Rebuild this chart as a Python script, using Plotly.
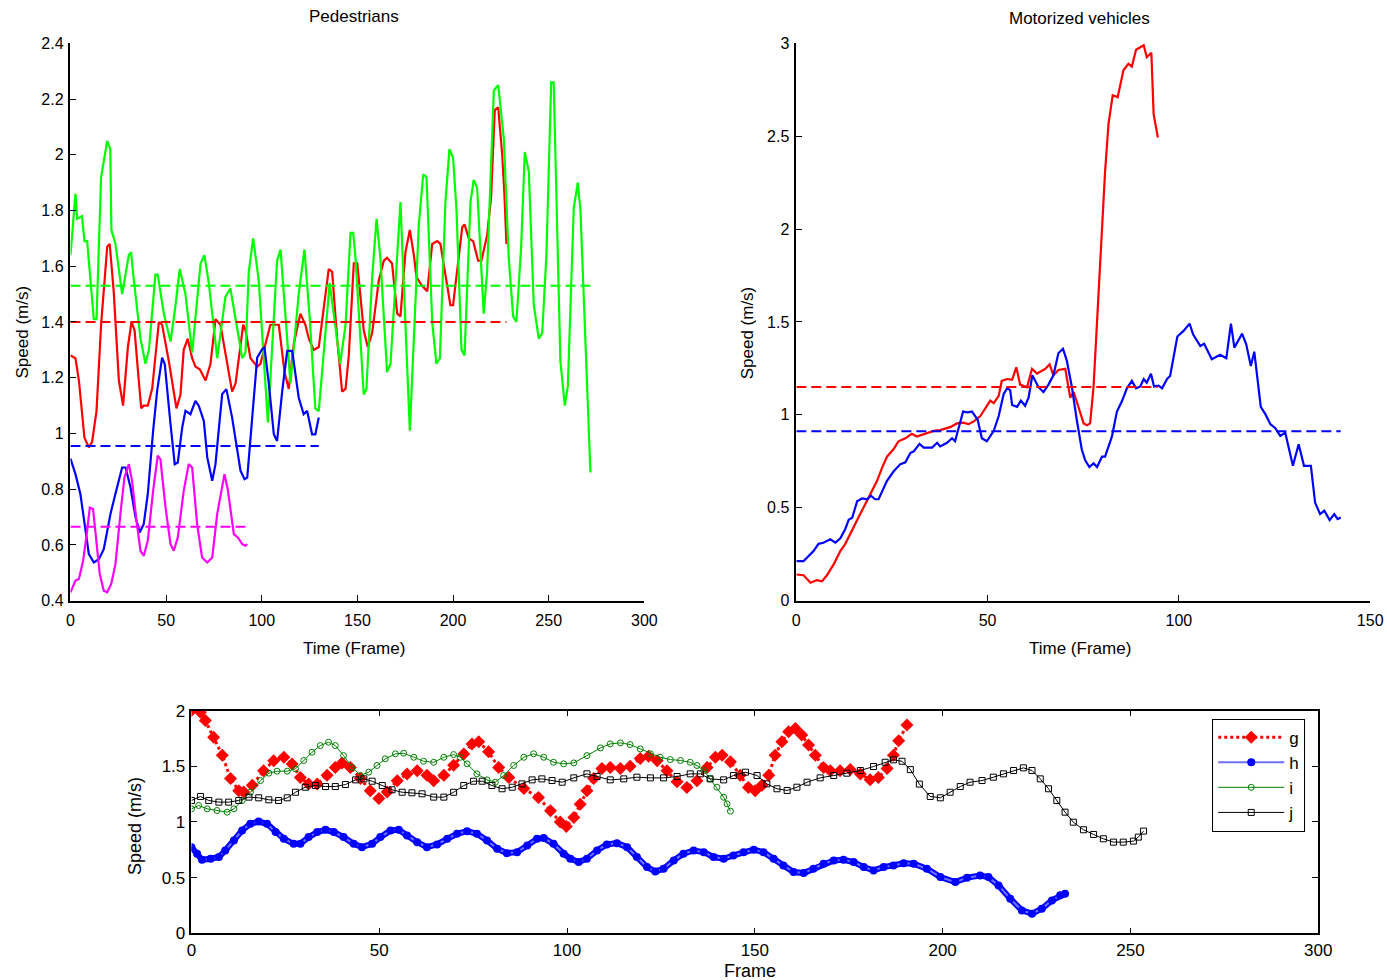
import plotly.graph_objects as go

# Figure size; the viewer shows it slightly scaled, so layout positions
# below are given in window pixels and converted by fx/fy.
W, H = 1405, 1000
AX, SX = 4.5, 0.9867
AY, SY = 7.7, 0.982

# ---------------- Pedestrians (speed in m/s vs frame) ----------------
ped_red_t = [0, 2.6, 4.4, 7.3, 9.6, 11.3, 13.6, 16, 19.2, 20.5, 22.6, 25.3, 27.5, 30, 31.9, 33.5, 35.7, 37, 38.3,
             40.4, 42.7, 46.2, 47.9, 51.4, 55.4, 57.5, 59.2, 61.3, 63.6, 65.3, 67.6, 70.6, 73.2, 75.8, 78.4, 81.9,
             84.5, 86.3, 90.3, 91.5, 94.1, 97.6, 99.3, 101.9, 104.5, 108.9, 111.9, 114.1, 116.7, 120.2, 122.8,
             124.6, 127.2, 129.8, 132.4, 135, 136.8, 139.4, 142, 143.8, 145.5, 148.1, 149.9, 153.3, 155.4, 157.7,
             161.2, 163.8, 165.5, 168.1, 170.8, 172.5, 175.1, 177.4, 179.5, 180.9, 183.8, 186.5, 189.1, 191.7,
             193.4, 196.9, 198.6, 200, 202.1, 204.8, 206, 208.2, 210.5, 213.1, 214.8, 217.8, 219.9, 221.8, 223.6,
             225.7, 226.9, 227.9]
ped_red_v = [1.28, 1.27, 1.19, 0.985, 0.95, 0.97, 1.08, 1.39, 1.67, 1.68, 1.51, 1.19, 1.10, 1.31, 1.40, 1.37, 1.19,
             1.09, 1.10, 1.10, 1.16, 1.40, 1.39, 1.26, 1.09, 1.14, 1.30, 1.34, 1.27, 1.24, 1.23, 1.19, 1.25, 1.41,
             1.39, 1.26, 1.15, 1.18, 1.39, 1.37, 1.27, 1.24, 1.25, 1.32, 1.39, 1.39, 1.22, 1.16, 1.32, 1.43, 1.39,
             1.34, 1.30, 1.31, 1.45, 1.59, 1.58, 1.34, 1.15, 1.16, 1.28, 1.61, 1.61, 1.37, 1.31, 1.36, 1.55, 1.62,
             1.63, 1.61, 1.43, 1.42, 1.65, 1.73, 1.64, 1.56, 1.53, 1.51, 1.68, 1.69, 1.68, 1.53, 1.46, 1.46, 1.58,
             1.74, 1.75, 1.70, 1.69, 1.62, 1.62, 1.71, 1.85, 2.16, 2.17, 2.00, 1.85, 1.68]

ped_green_t = [0, 2.6, 3.5, 6, 7.3, 8.7, 12.2, 13.6, 16, 19.2, 20.8, 21.4, 23.5, 27, 30.5, 31.7, 32.8, 36.6, 39.2,
               41, 44.4, 45.6, 48.8, 52.3, 54.9, 57.1, 60.1, 63.6, 68, 70, 72.3, 76.7, 81, 83.6, 89.8, 91.5, 93.2,
               95.5, 98.4, 103.2, 108, 109.8, 115, 119.3, 122.3, 125.1, 128, 129.8, 135.5, 141, 143.8, 146.4,
               147.8, 149, 153.3, 154.7, 157.7, 160, 162, 165.5, 167.3, 172.5, 175.1, 177.4, 182.1, 184.4, 186.1,
               189.1, 191.3, 193.1, 196, 198.1, 200, 201.8, 204.4, 206, 209.1, 210.8, 212.6, 214.3, 216, 217.8,
               221.3, 223.6, 226.5, 229.1, 231.4, 233.1, 235.6, 237.5, 239.6, 242.2, 244.8, 246.6, 248.8, 251.3,
               252.6, 256.1, 258.4, 260, 263.1, 265.2, 266.6, 271.8]
ped_green_v = [1.64, 1.86, 1.77, 1.78, 1.69, 1.69, 1.41, 1.41, 1.92, 2.05, 2.02, 1.73, 1.68, 1.50, 1.64, 1.65, 1.57,
               1.34, 1.25, 1.30, 1.57, 1.57, 1.43, 1.33, 1.46, 1.59, 1.50, 1.29, 1.61, 1.64, 1.54, 1.27, 1.49, 1.52,
               1.27, 1.29, 1.58, 1.70, 1.55, 1.04, 1.62, 1.66, 1.18, 1.50, 1.66, 1.41, 1.09, 1.08, 1.54, 1.25, 1.39,
               1.72, 1.72, 1.63, 1.14, 1.16, 1.56, 1.77, 1.63, 1.22, 1.25, 1.83, 1.39, 1.01, 1.75, 1.93, 1.92, 1.40,
               1.25, 1.27, 1.83, 2.02, 1.99, 1.80, 1.30, 1.28, 1.83, 1.91, 1.88, 1.65, 1.43, 1.58, 2.23, 2.25, 2.06,
               1.63, 1.42, 1.40, 1.67, 2.01, 1.94, 1.46, 1.34, 1.36, 1.64, 2.26, 2.26, 1.26, 1.10, 1.17, 1.81, 1.90,
               1.80, 0.86]

ped_blue_t = [0, 2.6, 5.2, 7.8, 9.6, 12.2, 14.8, 17.4, 19.2, 20.9, 23, 25.3, 27, 28.8, 31.4, 34, 36.2, 38.3, 40.4,
              43.2, 45.3, 47.9, 49.3, 52.3, 54.5, 56.1, 58.4, 60.1, 62.7, 65.3, 67.1, 69.7, 71.5, 74.1, 75.8, 79.3,
              81.5, 84.5, 87.1, 88.9, 91, 92.4, 95, 97.6, 100.2, 101.4, 103.7, 106.3, 108, 110.7, 113.3, 115.9,
              119.3, 121.9, 123.7, 126.3, 128, 129.8]
ped_blue_v = [0.91, 0.854, 0.782, 0.651, 0.567, 0.537, 0.549, 0.585, 0.651, 0.711, 0.770, 0.830, 0.878, 0.878,
              0.806, 0.699, 0.645, 0.675, 0.782, 1.009, 1.153, 1.272, 1.248, 1.033, 0.890, 0.896, 1.021, 1.081,
              1.069, 1.117, 1.099, 1.045, 0.914, 0.830, 0.890, 1.141, 1.159, 1.057, 0.949, 0.866, 0.836, 0.842,
              1.057, 1.272, 1.302, 1.31, 1.177, 0.997, 0.973, 1.153, 1.296, 1.296, 1.129, 1.069, 1.081, 0.997,
              0.997, 1.057]

ped_magenta_t = [0, 2.6, 4.4, 6.6, 8.7, 10.1, 11.8, 13.6, 15.3, 17.4, 19.2, 21.3, 23.5, 26.1, 28.2, 30.5, 32.2,
                 34.5, 36.6, 38.3, 40.4, 43.2, 45.6, 47, 49.7, 52.3, 54, 56.1, 59.2, 61.8, 63.6, 66.2, 68.8, 71.5,
                 74.1, 76.7, 79.3, 80.5, 82.2, 84, 85.4, 87.5, 89.8, 91.5, 92.4]
ped_magenta_v = [0.43, 0.472, 0.478, 0.543, 0.651, 0.734, 0.729, 0.615, 0.496, 0.436, 0.43, 0.46, 0.531, 0.711,
                 0.842, 0.890, 0.830, 0.687, 0.579, 0.561, 0.615, 0.794, 0.92, 0.908, 0.734, 0.603, 0.579, 0.627,
                 0.794, 0.890, 0.878, 0.675, 0.555, 0.537, 0.555, 0.711, 0.818, 0.854, 0.80, 0.699, 0.639, 0.627,
                 0.603, 0.597, 0.603]

# mean speed of each pedestrian
ped_red_mean = 1.40
ped_green_mean = 1.53
ped_blue_mean = 0.955
ped_magenta_mean = 0.665

# ---------------- Motorized vehicles ----------------
veh_red_t = [0, 1.9, 3.7, 5.4, 6.7, 8, 9.8, 11.5, 12.8, 14.6, 16.7, 18.9, 21.1, 22.4, 23.7, 25.4, 26.7, 28.5, 30.2,
             31.5, 33.3, 35.9, 37.6, 40.2, 42, 43.6, 45, 46.3, 48.1, 49.4, 50.7, 51.6, 52.9, 53.7, 55.1, 56.4, 57.5,
             58.5, 60.3, 61.6, 62.9, 65.1, 66.2, 67.2, 68.5, 70.3, 71.6, 72.5, 73.8, 75.1, 76, 76.8, 77.7, 79,
             79.9, 80.7, 81.6, 82.7, 84, 85.5, 86.8, 87.7, 88.8, 90.8, 91.6, 92.8, 93.4, 94.5]
veh_red_v = [0.141, 0.137, 0.097, 0.111, 0.104, 0.137, 0.197, 0.267, 0.306, 0.376, 0.466, 0.556, 0.645, 0.715,
             0.775, 0.815, 0.858, 0.874, 0.898, 0.884, 0.898, 0.914, 0.918, 0.934, 0.954, 0.958, 0.95, 0.964, 0.994,
             1.033, 1.077, 1.063, 1.103, 1.183, 1.193, 1.189, 1.256, 1.163, 1.149, 1.248, 1.222, 1.248, 1.272,
             1.213, 1.242, 1.248, 1.093, 1.123, 1.033, 0.954, 0.944, 0.954, 1.153, 1.670, 2.029, 2.308, 2.567,
             2.72, 2.71, 2.855, 2.889, 2.875, 2.965, 2.989, 2.925, 2.949, 2.617, 2.493]

veh_blue_t = [0, 1.9, 4.5, 5.8, 7.1, 8.9, 10.2, 11.5, 12.8, 13.7, 14.6, 15.9, 17.2, 18.5, 19.5, 20.6, 21.5, 22.8,
              23.7, 25.4, 27.2, 28.5, 29.8, 30.7, 32.2, 33.3, 35.5, 36.8, 37.6, 39.4, 40.7, 41.5, 42.4, 43.6, 44.8,
              45.9, 47.4, 48.5, 49.8, 51.6, 52.9, 54.2, 55.1, 55.9, 56.4, 57.7, 58.7, 59.8, 60.7, 61.7, 63.3, 64.6,
              65.9, 67.2, 68.5, 69.7, 70.7, 72, 73.3, 74.6, 75.5, 76.6, 77.7, 78.6, 79.9, 80.7, 82.5, 83.8, 85.1,
              86.4, 87.7, 88.8, 89.9, 90.8, 91.6, 92.7, 93.5, 94.7, 95.6, 96.9, 97.7, 98.6, 99.6, 101.2, 102.8,
              103.7, 105.6, 106.6, 108.6, 110.8, 112.4, 113.6, 114.5, 116.5, 117.6, 118.8, 119.7, 121.4, 122.6,
              123.9, 125.2, 126.5, 127.8, 128.6, 129.8, 131.3, 132.7, 134.5, 135.6, 136.9, 138, 139.4, 140.6,
              141.5, 142.3]
veh_blue_v = [0.213, 0.213, 0.267, 0.306, 0.312, 0.33, 0.312, 0.336, 0.386, 0.436, 0.446, 0.535, 0.551, 0.546,
              0.565, 0.546, 0.546, 0.605, 0.645, 0.695, 0.735, 0.745, 0.795, 0.804, 0.844, 0.824, 0.824, 0.85,
              0.83, 0.85, 0.874, 0.858, 0.924, 1.018, 1.014, 1.018, 0.974, 0.874, 0.858, 0.914, 0.994, 1.113,
              1.143, 1.133, 1.053, 1.043, 1.077, 1.049, 1.093, 1.213, 1.149, 1.123, 1.163, 1.213, 1.332, 1.356,
              1.292, 1.153, 0.974, 0.815, 0.755, 0.719, 0.739, 0.719, 0.775, 0.775, 0.884, 1.018, 1.073, 1.143,
              1.183, 1.143, 1.153, 1.193, 1.173, 1.222, 1.153, 1.157, 1.143, 1.193, 1.209, 1.312, 1.422, 1.452,
              1.491, 1.434, 1.371, 1.383, 1.299, 1.323, 1.305, 1.491, 1.362, 1.437, 1.38, 1.263, 1.34, 1.043,
              1.004, 0.95, 0.928, 0.887, 0.905, 0.833, 0.726, 0.842, 0.726, 0.726, 0.528, 0.466, 0.484, 0.434,
              0.466, 0.439, 0.448]

veh_red_mean = 1.15
veh_blue_mean = 0.912

# ---------------- Bottom panel: series g, h, i, j ----------------
g_t = [0, 2.4, 3.7, 5.9, 8.2, 10.4, 12.6, 13.9, 16.2, 19.2, 21.9, 24.6, 26.8, 29, 31.2, 33.5, 36.1, 38.3, 40.1,
       42.3, 45, 47.6, 49.9, 52.1, 54.8, 57.4, 60.1, 62.7, 64.5, 67.2, 69.8, 72.5, 74.7, 76.5, 79.1, 81.8, 84.5,
       88.5, 92.4, 95.6, 98.2, 99.8, 101.8, 103.5, 105.3, 107.1, 109.3, 111.5, 114.2, 116.8, 119.5, 121.7, 124,
       126.6, 129.3, 131.9, 134.6, 137.3, 139.5, 141.3, 143.5, 146.1, 148.3, 150.1, 151.9, 153.7, 155.4, 157.2,
       159, 160.8, 162.5, 164.3, 166.1, 168.3, 170.1, 172.7, 175.4, 178.1, 180.7, 182.9, 185.2, 186.9, 188.3, 190.5]
g_v = [2.0, 1.985, 1.91, 1.76, 1.60, 1.39, 1.28, 1.27, 1.33, 1.46, 1.55, 1.58, 1.52, 1.40, 1.34, 1.34, 1.42, 1.49,
       1.53, 1.49, 1.39, 1.28, 1.21, 1.27, 1.37, 1.43, 1.46, 1.42, 1.37, 1.42, 1.51, 1.61, 1.70, 1.72, 1.63, 1.49,
       1.40, 1.30, 1.22, 1.10, 1.00, 0.96, 1.04, 1.16, 1.28, 1.39, 1.48, 1.49, 1.48, 1.50, 1.57, 1.59, 1.55, 1.46,
       1.36, 1.31, 1.37, 1.49, 1.58, 1.60, 1.54, 1.42, 1.31, 1.28, 1.33, 1.42, 1.60, 1.72, 1.81, 1.84, 1.78, 1.69,
       1.60, 1.49, 1.46, 1.46, 1.47, 1.43, 1.38, 1.40, 1.48, 1.60, 1.73, 1.87]

h_t = [0, 1.5, 2.8, 5.1, 7.3, 9, 11.3, 13.5, 15.7, 17.9, 20.1, 22.4, 24.6, 27.2, 29, 31.2, 33.5, 35.7, 37.9, 40.5,
       43.2, 45.4, 48.1, 50.3, 53, 55.2, 57.4, 60.1, 62.7, 65.4, 68.1, 70.7, 73.4, 76, 78.7, 81.4, 84, 86.7, 89.4,
       92, 93.8, 96.4, 99.1, 100.9, 103.1, 105.3, 108, 110.6, 113.3, 116, 118.6, 121.3, 123.5, 125.7, 128.4, 131,
       133.7, 136.4, 139, 141.7, 144.3, 147, 149.7, 152.3, 155, 157.6, 160.3, 163, 165.6, 168.3, 171, 173.6, 176.3,
       179, 181.6, 184.3, 186.9, 189.6, 192.3, 195.8, 199.4, 203.4, 206.5, 210, 212.2, 214.9, 218, 221.1, 223.8,
       226.4, 229.1, 231.3, 232.6]
h_v = [0.774, 0.715, 0.66, 0.67, 0.685, 0.744, 0.834, 0.924, 0.984, 1.004, 0.984, 0.909, 0.849, 0.804, 0.804,
       0.864, 0.909, 0.93, 0.909, 0.864, 0.804, 0.774, 0.804, 0.864, 0.924, 0.93, 0.879, 0.819, 0.774, 0.798, 0.849,
       0.894, 0.917, 0.894, 0.834, 0.76, 0.72, 0.729, 0.789, 0.849, 0.855, 0.804, 0.715, 0.67, 0.64, 0.67, 0.744,
       0.798, 0.81, 0.774, 0.685, 0.595, 0.556, 0.58, 0.655, 0.715, 0.744, 0.729, 0.685, 0.67, 0.70, 0.729, 0.751,
       0.729, 0.67, 0.61, 0.55, 0.541, 0.58, 0.625, 0.655, 0.661, 0.64, 0.595, 0.565, 0.595, 0.61, 0.63, 0.625,
       0.58, 0.505, 0.46, 0.50, 0.52, 0.505, 0.43, 0.311, 0.206, 0.177, 0.221, 0.296, 0.341, 0.356]

i_t = [0, 1.9, 4.2, 6.8, 9.5, 11.3, 13.5, 15.7, 18.4, 20.6, 22.8, 25.5, 27.7, 29.9, 32.1, 34.3, 36.5, 38.3, 40.5,
       42.8, 45, 47.2, 49.4, 51.6, 54.3, 56.5, 59.2, 61.8, 64.5, 67.2, 69.8, 71.6, 73.4, 76, 78.7, 80.9, 83.1, 85.8,
       88.5, 91.1, 93.8, 96.4, 99.1, 101.8, 105.3, 108.9, 111.5, 114.2, 116.8, 119.5, 122.2, 124.8, 127.5, 130.2,
       132.8, 134.6, 136.4, 138.1, 139.9, 141.7, 142.6, 143.5]
i_v = [1.118, 1.148, 1.118, 1.103, 1.088, 1.118, 1.193, 1.267, 1.372, 1.438, 1.456, 1.456, 1.477, 1.552, 1.626,
       1.686, 1.716, 1.686, 1.596, 1.491, 1.417, 1.447, 1.507, 1.567, 1.612, 1.617, 1.581, 1.545, 1.536, 1.581,
       1.605, 1.581, 1.522, 1.432, 1.378, 1.357, 1.417, 1.507, 1.581, 1.612, 1.581, 1.536, 1.522, 1.53, 1.596,
       1.665, 1.701, 1.710, 1.695, 1.656, 1.612, 1.581, 1.56, 1.552, 1.536, 1.507, 1.462, 1.387, 1.312, 1.222,
       1.163, 1.097]

j_t = [0, 2.4, 4.6, 7.3, 9.9, 12.6, 15.3, 17.9, 20.6, 23.2, 25.5, 27.7, 30.3, 33, 35.7, 38.3, 41, 43.7, 45.9, 48.1,
       50.8, 53.4, 56.1, 58.7, 61.4, 64.5, 67.2, 69.8, 72.5, 75.1, 77.4, 80, 82.7, 85.4, 88, 90.7, 93.3, 96, 98.7,
       101.8, 105.3, 108, 111.5, 115.1, 118.6, 122.2, 125.7, 129.3, 132.8, 135.5, 138.1, 141.7, 144.3, 147.5, 150.6,
       153.2, 155.9, 158.6, 161.2, 163.9, 167.4, 171, 174.5, 178.1, 181.6, 184.7, 186.9, 189.2, 191.4, 193.8, 196.7,
       199.4, 202, 204.7, 207.3, 210.5, 213.5, 216.2, 218.9, 221.5, 223.8, 226, 228.2, 230.4, 232.6, 234.8, 237.5,
       240.2, 242.8, 245.5, 248.1, 250.8, 252.1, 253.5]
j_v = [1.193, 1.229, 1.193, 1.178, 1.178, 1.193, 1.223, 1.217, 1.199, 1.193, 1.217, 1.267, 1.312, 1.327, 1.318,
       1.318, 1.336, 1.378, 1.387, 1.366, 1.327, 1.289, 1.267, 1.262, 1.253, 1.223, 1.223, 1.267, 1.327, 1.366,
       1.366, 1.327, 1.298, 1.312, 1.342, 1.378, 1.387, 1.372, 1.357, 1.396, 1.432, 1.408, 1.378, 1.387, 1.402,
       1.396, 1.396, 1.408, 1.432, 1.432, 1.387, 1.378, 1.417, 1.447, 1.417, 1.342, 1.298, 1.283, 1.312, 1.357,
       1.396, 1.417, 1.438, 1.462, 1.498, 1.536, 1.558, 1.545, 1.47, 1.34, 1.229, 1.217, 1.267, 1.318, 1.357, 1.372,
       1.402, 1.432, 1.462, 1.486, 1.462, 1.387, 1.298, 1.193, 1.088, 0.998, 0.93, 0.888, 0.849, 0.819, 0.819,
       0.828, 0.864, 0.918]

# ---------------- tick values / labels ----------------
ped_x_ticks = [0, 50, 100, 150, 200, 250, 300]
ped_y_ticks = [0.4, 0.6, 0.8, 1.0, 1.2, 1.4, 1.6, 1.8, 2.0, 2.2, 2.4]
ped_y_labels = ["0.4", "0.6", "0.8", "1", "1.2", "1.4", "1.6", "1.8", "2", "2.2", "2.4"]
veh_x_ticks = [0, 50, 100, 150]
veh_y_ticks = [0, 0.5, 1, 1.5, 2, 2.5, 3]
veh_y_labels = ["0", "0.5", "1", "1.5", "2", "2.5", "3"]
bot_x_ticks = [0, 50, 100, 150, 200, 250, 300]
bot_y_ticks = [0, 0.5, 1, 1.5, 2]
bot_y_labels = ["0", "0.5", "1", "1.5", "2"]

FONT = "Liberation Sans, Arial, sans-serif"
RED, GREEN, BLUE, MAGENTA = "#ff0000", "#00ff00", "#0000ff", "#ff00ff"


def fx(px):
    """window x pixel -> paper fraction"""
    return ((px - AX) / SX) / W


def fy(py):
    """window y pixel -> paper fraction"""
    return 1 - ((py - AY) / SY) / H


fig = go.Figure()

# --- pedestrian speed curves ---
for t, v, c in [(ped_red_t, ped_red_v, RED), (ped_green_t, ped_green_v, GREEN),
                (ped_blue_t, ped_blue_v, BLUE), (ped_magenta_t, ped_magenta_v, MAGENTA)]:
    fig.add_trace(go.Scatter(x=t, y=v, mode="lines", line=dict(color=c, width=2.2),
                             xaxis="x", yaxis="y", showlegend=False, hoverinfo="skip"))
# --- pedestrian mean speeds ---
for t, m, c in [(ped_red_t, ped_red_mean, RED), (ped_green_t, ped_green_mean, GREEN),
                (ped_blue_t, ped_blue_mean, BLUE), (ped_magenta_t, ped_magenta_mean, MAGENTA)]:
    fig.add_trace(go.Scatter(x=[0, t[-1]], y=[m, m], mode="lines",
                             line=dict(color=c, width=2, dash="10px,5px"),
                             xaxis="x", yaxis="y", showlegend=False, hoverinfo="skip"))

# --- vehicle speed curves and means ---
for t, v, c in [(veh_red_t, veh_red_v, RED), (veh_blue_t, veh_blue_v, BLUE)]:
    fig.add_trace(go.Scatter(x=t, y=v, mode="lines", line=dict(color=c, width=2.2),
                             xaxis="x2", yaxis="y2", showlegend=False, hoverinfo="skip"))
for t, m, c in [(veh_red_t, veh_red_mean, RED), (veh_blue_t, veh_blue_mean, BLUE)]:
    fig.add_trace(go.Scatter(x=[0, t[-1]], y=[m, m], mode="lines",
                             line=dict(color=c, width=2, dash="10px,5px"),
                             xaxis="x2", yaxis="y2", showlegend=False, hoverinfo="skip"))

# --- bottom panel ---
fig.add_trace(go.Scatter(x=g_t, y=g_v, name="g", mode="lines+markers",
                         line=dict(color=RED, width=3, dash="dot"),
                         marker=dict(symbol="diamond", size=10, color=RED),
                         xaxis="x3", yaxis="y3", hoverinfo="skip"))
fig.add_trace(go.Scatter(x=h_t, y=h_v, mode="lines", line=dict(color=BLUE, width=6),
                         xaxis="x3", yaxis="y3", showlegend=False, hoverinfo="skip"))
fig.add_trace(go.Scatter(x=h_t, y=h_v, name="h", mode="lines+markers",
                         line=dict(color="#7070ff", width=2),
                         marker=dict(symbol="circle", size=8, color=BLUE),
                         xaxis="x3", yaxis="y3", hoverinfo="skip"))
fig.add_trace(go.Scatter(x=i_t, y=i_v, name="i", mode="lines+markers",
                         line=dict(color="#008000", width=1),
                         marker=dict(symbol="circle-open", size=6, color="#008000", line=dict(width=1)),
                         xaxis="x3", yaxis="y3", hoverinfo="skip"))
fig.add_trace(go.Scatter(x=j_t, y=j_v, name="j", mode="lines+markers",
                         line=dict(color="#000000", width=1),
                         marker=dict(symbol="square-open", size=6, color="#000000", line=dict(width=1)),
                         xaxis="x3", yaxis="y3", hoverinfo="skip"))

axis_common = dict(showgrid=False, zeroline=False, showline=True, linecolor="black", linewidth=1.5,
                   ticks="inside", ticklen=6, tickcolor="black", tickwidth=1)
top_tick_font = dict(family=FONT, size=16, color="black")
bot_tick_font = dict(family=FONT, size=17, color="black")

fig.update_layout(
    width=W, height=H, autosize=False,
    margin=dict(l=0, r=0, t=0, b=0),
    paper_bgcolor="white", plot_bgcolor="white",
    font=dict(family=FONT, color="black"),
    xaxis=dict(domain=[fx(70), fx(644)], range=[0, 300], anchor="y", tickmode="array",
               tickvals=ped_x_ticks, tickfont=top_tick_font, ticklabelstandoff=4, **axis_common),
    yaxis=dict(domain=[fy(600), fy(42)], range=[0.4, 2.4], anchor="x", tickmode="array",
               tickvals=ped_y_ticks, ticktext=ped_y_labels, tickfont=top_tick_font, ticklabelstandoff=2,
               **axis_common),
    xaxis2=dict(domain=[fx(796), fx(1370)], range=[0, 150], anchor="y2", tickmode="array",
                tickvals=veh_x_ticks, tickfont=top_tick_font, ticklabelstandoff=4, **axis_common),
    yaxis2=dict(domain=[fy(600), fy(42)], range=[0, 3], anchor="x2", tickmode="array",
                tickvals=veh_y_ticks, ticktext=veh_y_labels, tickfont=top_tick_font, ticklabelstandoff=2,
                **axis_common),
    xaxis3=dict(domain=[fx(191), fx(1318)], range=[0, 300], anchor="y3", tickmode="array",
                tickvals=bot_x_ticks, tickfont=bot_tick_font, mirror="ticks", ticklabelstandoff=0,
                **axis_common),
    yaxis3=dict(domain=[fy(933), fy(710)], range=[0, 2], anchor="x3", tickmode="array",
                tickvals=bot_y_ticks, ticktext=bot_y_labels, tickfont=bot_tick_font, mirror="ticks",
                ticklabelstandoff=1, **axis_common),
    legend=dict(x=fx(1212), y=fy(718), xanchor="left", yanchor="top",
                bgcolor="white", bordercolor="black", borderwidth=1,
                font=dict(family=FONT, size=17, color="black"),
                itemwidth=66, tracegroupgap=0),
)

annotations = [
    dict(text="Pedestrians", x=fx(354), y=fy(15.5), size=17),
    dict(text="Motorized vehicles", x=fx(1079), y=fy(17), size=17),
    dict(text="Time (Frame)", x=fx(354), y=fy(648), size=17),
    dict(text="Time (Frame)", x=fx(1080), y=fy(648), size=17),
    dict(text="Frame", x=fx(750), y=fy(971), size=18),
    dict(text="Speed (m/s)", x=fx(22), y=fy(331), size=17, angle=-90),
    dict(text="Speed (m/s)", x=fx(748), y=fy(332), size=17, angle=-90),
    dict(text="Speed (m/s)", x=fx(135), y=fy(825), size=18, angle=-90),
]
for a in annotations:
    fig.add_annotation(text=a["text"], x=a["x"], y=a["y"], xref="paper", yref="paper",
                       xanchor="center", yanchor="middle", showarrow=False,
                       textangle=a.get("angle", 0),
                       font=dict(family=FONT, size=a["size"], color="black"))

fig.write_html("out.html")
